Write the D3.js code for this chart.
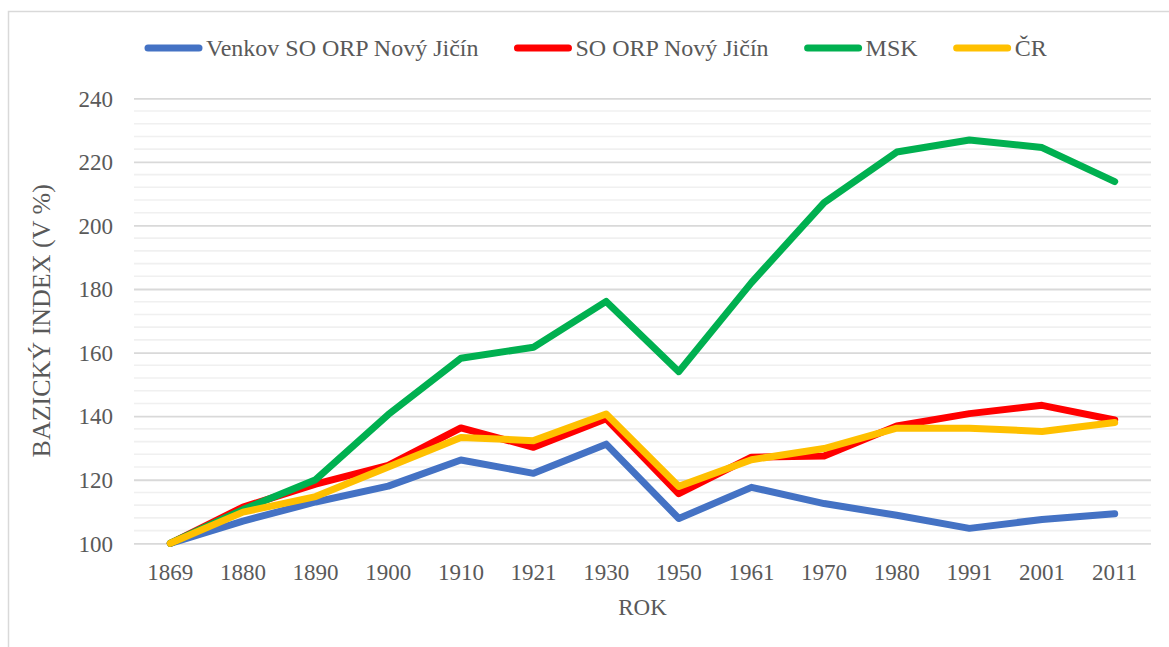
<!DOCTYPE html>
<html>
<head>
<meta charset="utf-8">
<script src="https://cdn.jsdelivr.net/npm/d3@7"></script>
<style>
  body { margin: 0; background: #ffffff; }
  text { font-family: "Liberation Serif", "Times New Roman", serif; fill: #595959; }
</style>
</head>
<body>
<script>

// Census years (categories on the x axis)
var years = ["1869", "1880", "1890", "1900", "1910", "1921", "1930", "1950", "1961", "1970", "1980", "1991", "2001", "2011"]

// Basic index values (1869 = 100)
var venkov = [100, 107, 113, 118, 126.2, 122, 131.2, 107.8, 117.6, 112.5, 108.8, 104.7, 107.5, 109.3]
var soOrp = [100, 111.4, 118.6, 124.5, 136.3, 130.2, 139.2, 115.6, 127.1, 127.5, 136.9, 140.8, 143.4, 138.8]
var msk = [100, 110.6, 120, 140.5, 158.2, 161.7, 176.1, 154, 182, 207.2, 223.1, 226.9, 224.5, 213.8]
var cr = [100, 109.8, 114.7, 124, 133.3, 132.3, 140.7, 117.9, 126.3, 129.8, 136.2, 136.2, 135.2, 138]

// Series names and colours
var seriesNames = ["Venkov SO ORP Nový Jičín", "SO ORP Nový Jičín", "MSK", "ČR"]
var seriesColors = ["#4472C4", "#FF0000", "#00B050", "#FFC000"]

// Y axis ticks
var yTicks = [100, 120, 140, 160, 180, 200, 220, 240]
var yMinorTicks = d3.range(100, 241, 4)

var series = [venkov, soOrp, msk, cr].map(function(values, i) {
  return {name: seriesNames[i], color: seriesColors[i], values: values}
})

// Size and margins
var svgW = 1169
var svgH = 647
var plotLeft = 134
var plotRight = 1151
var plotTop = 98.3
var plotBottom = 543.3

var svg = d3.select("body")
            .append("svg")
            .attr("width", svgW)
            .attr("height", svgH)

// Chart border (runs off the right and bottom edge like in the original)
svg.append("rect")
   .attr("x", 8.5)
   .attr("y", 11.5)
   .attr("width", 1250)
   .attr("height", 700)
   .style("fill", "none")
   .style("stroke", "#d9d9d9")
   .style("stroke-width", 1.5)

// Scales
var xScale = d3.scaleBand()
               .domain(years)
               .range([plotLeft, plotRight])

var yScale = d3.scaleLinear()
               .domain([100, 240])
               .range([plotBottom, plotTop])

// Minor gridlines
svg.append("g")
   .attr("class", "minor grid")
   .selectAll("line")
   .data(yMinorTicks.filter(function(d) { return yTicks.indexOf(d) < 0 }))
   .enter()
   .append("line")
     .attr("x1", plotLeft)
     .attr("x2", plotRight)
     .attr("y1", function(d) { return yScale(d) })
     .attr("y2", function(d) { return yScale(d) })
     .style("stroke", "#f0f0f0")
     .style("stroke-width", 1.6)

// Y axis with major gridlines
var yAxis = d3.axisLeft(yScale)
              .tickValues(yTicks)
              .tickSize(-(plotRight - plotLeft))
              .tickPadding(21)
var yAxisG = svg.append("g")
                .attr("class", "y axis")
                .attr("transform", "translate(" + plotLeft + ",0)")
                .call(yAxis)
yAxisG.select(".domain").remove()
yAxisG.selectAll(".tick line")
      .style("stroke", "#d9d9d9")
      .style("stroke-width", 1.8)
yAxisG.selectAll(".tick text")
      .style("font-size", "23px")
      .attr("dy", "0.34em")

// X axis (labels only)
var xAxis = d3.axisBottom(xScale)
              .tickSize(0)
              .tickPadding(20)
var xAxisG = svg.append("g")
                .attr("class", "x axis")
                .attr("transform", "translate(0," + plotBottom + ")")
                .call(xAxis)
xAxisG.select(".domain").remove()
xAxisG.selectAll(".tick text")
      .style("font-size", "23px")

// Axis titles
svg.append("text")
   .attr("x", (plotLeft + plotRight) / 2)
   .attr("y", 615)
   .style("text-anchor", "middle")
   .style("font-size", "23px")
   .text("ROK")

svg.append("text")
   .attr("transform", "translate(50," + ((plotTop + plotBottom) / 2) + ") rotate(-90)")
   .style("text-anchor", "middle")
   .style("font-size", "26px")
   .text("BAZICKÝ INDEX (V %)")

// Lines
var line = d3.line()
             .x(function(d, i) { return xScale(years[i]) + xScale.bandwidth() / 2 })
             .y(function(d) { return yScale(d) })

svg.selectAll(".series")
   .data(series)
   .enter()
   .append("path")
     .attr("class", "series")
     .attr("d", function(d) { return line(d.values) })
     .style("fill", "none")
     .style("stroke", function(d) { return d.color })
     .style("stroke-width", 7)
     .style("stroke-linejoin", "round")
     .style("stroke-linecap", "round")

// Legend
var legendLine = 57
var legendGap = 4
var legendSpacing = 36
var legendY = 48
var legend = svg.append("g").attr("class", "legend")
var x = 145
series.forEach(function(s) {
  legend.append("line")
        .attr("x1", x + 3)
        .attr("x2", x + legendLine - 3)
        .attr("y1", legendY)
        .attr("y2", legendY)
        .style("stroke", s.color)
        .style("stroke-width", 7)
        .style("stroke-linecap", "round")
  var label = legend.append("text")
                    .attr("x", x + legendLine + legendGap)
                    .attr("y", legendY + 8)
                    .style("font-size", "24px")
                    .text(s.name)
  x = x + legendLine + legendGap + label.node().getComputedTextLength() + legendSpacing
})

</script>
</body>
</html>
